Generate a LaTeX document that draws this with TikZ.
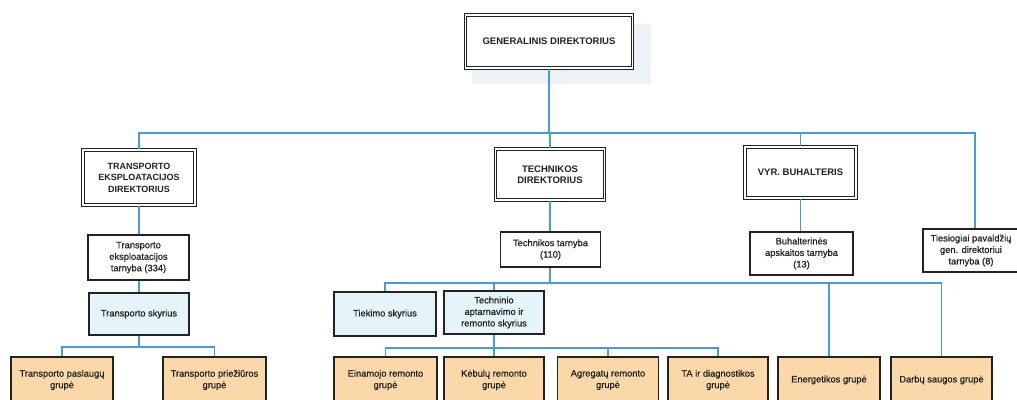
\documentclass[tikz,border=0pt]{standalone}
\usepackage{fontspec}
\setmainfont{Liberation Sans}
\newfontfamily\medsans[FakeBold=0.7]{Liberation Sans}
\definecolor{lineblue}{HTML}{4A9AD4}
\definecolor{paleblue}{HTML}{E4F4F8}
\definecolor{paleorange}{HTML}{FBD8AA}
\definecolor{shadowblue}{HTML}{EDF2F6}
\definecolor{ink}{HTML}{222222}
\tikzset{
  conn/.style={draw=lineblue, line width=1.3pt},
  headbox/.style={draw=ink, line width=1.1pt, double=white, double distance=1.4pt, fill=white,
    align=center, text=ink, font=\fontsize{9.5}{11.5}\selectfont\bfseries, inner sep=0pt},
  sbox/.style={draw=ink, line width=1.2pt, fill=white, align=center, text=ink,
    font=\fontsize{9.3}{11.5}\selectfont\medsans, inner sep=0pt},
  bluebox/.style={sbox, fill=paleblue},
  orbox/.style={sbox, fill=paleorange, minimum height=46},
}
\begin{document}
\begin{tikzpicture}[x=1pt,y=-1pt]
\clip (0,0) rectangle (1017,399);
\fill[white] (0,0) rectangle (1017,399);
% faint shadow behind top box
\fill[shadowblue] (472,24) rectangle (651,84);

% level 0
\node[headbox, minimum width=167, minimum height=53] (gen) at (549,41.5) {GENERALINIS DIREKTORIUS};
% level 1
\node[headbox, minimum width=112, minimum height=55, font=\fontsize{9}{11.5}\selectfont\bfseries] (ted) at (139,177.5) {TRANSPORTO\\EKSPLOATACIJOS\\DIREKTORIUS};
\node[headbox, minimum width=109, minimum height=51] (tdir) at (550,174.5) {TECHNIKOS\\DIREKTORIUS};
\node[headbox, minimum width=111, minimum height=51] (vyr) at (800.5,172.5) {VYR. BUHALTERIS};
% level 2
\node[sbox, minimum width=101, minimum height=45] (tet) at (138.5,257.5) {Transporto\\eksploatacijos\\tarnyba (334)};
\node[sbox, minimum width=100, minimum height=35] (ttar) at (550.5,249.5) {Technikos tarnyba\\(110)};
\node[sbox, minimum width=103, minimum height=43] (buh) at (801.5,253.5) {Buhalterinės\\apskaitos tarnyba\\(13)};
\node[sbox, minimum width=96, minimum height=43] (ties) at (971,250.5) {Tiesiogiai pavaldžių\\gen. direktoriui\\tarnyba (8)};
% level 3
\node[bluebox, minimum width=100, minimum height=42] (tsk) at (139,314) {Transporto skyrius};
\node[bluebox, minimum width=102, minimum height=44] (tiek) at (385,314) {Tiekimo skyrius};
\node[bluebox, minimum width=100, minimum height=43] (tech) at (494,312.5) {Techninio\\aptarnavimo ir\\remonto skyrius};
% level 4
\node[orbox, minimum width=102] (tpas) at (62,380) {Transporto paslaugų\\grupė};
\node[orbox, minimum width=103] (tpri) at (214.5,380) {Transporto priežiūros\\grupė};
\node[orbox, minimum width=103] (ein) at (385.5,380) {Einamojo remonto\\grupė};
\node[orbox, minimum width=100] (keb) at (494,380) {Kėbulų remonto\\grupė};
\node[orbox, minimum width=101] (agr) at (608,380) {Agregatų remonto\\grupė};
\node[orbox, minimum width=100] (ta) at (718,380) {TA ir diagnostikos\\grupė};
\node[orbox, minimum width=102] (ene) at (829,380) {Energetikos grupė};
\node[orbox, minimum width=101] (dar) at (941.5,380) {Darbų saugos grupė};

% connectors
\coordinate (b1) at (549,133);
\draw[conn] (gen.south) -- (b1);
\draw[conn] (b1) -| (ted.north);
\draw[conn] (b1) -| (tdir.north);
\draw[conn] (b1) -| (vyr.north);
\draw[conn] (b1) -| ([xshift=4]ties.north);

\draw[conn] (ted.south) -- (ted.south |- tet.north);
\draw[conn] (ted.south |- tet.south) -- (ted.south |- tsk.north);
\coordinate (b2) at (139,347);
\draw[conn] (tsk.south) -- (b2);
\draw[conn] (b2) -| (tpas.north);
\draw[conn] (b2) -| (tpri.north);

\draw[conn] (tdir.south) -- (tdir.south |- ttar.north);
\coordinate (b3) at (550,283);
\draw[conn] (tdir.south |- ttar.south) -- (b3);
\draw[conn] (b3) -| (tiek.north);
\draw[conn] (b3) -| (tech.north);
\draw[conn] (b3) -| (ene.north);
\draw[conn] (b3) -| (dar.north);

\coordinate (b4) at (494,348);
\draw[conn] (tech.south) -- (b4);
\draw[conn] (b4) -| (ein.north);
\draw[conn] (b4) -- (keb.north);
\draw[conn] (b4) -| (agr.north);
\draw[conn] (b4) -| (ta.north);

\draw[conn] (vyr.south) -- (vyr.south |- buh.north);
\end{tikzpicture}
\end{document}
